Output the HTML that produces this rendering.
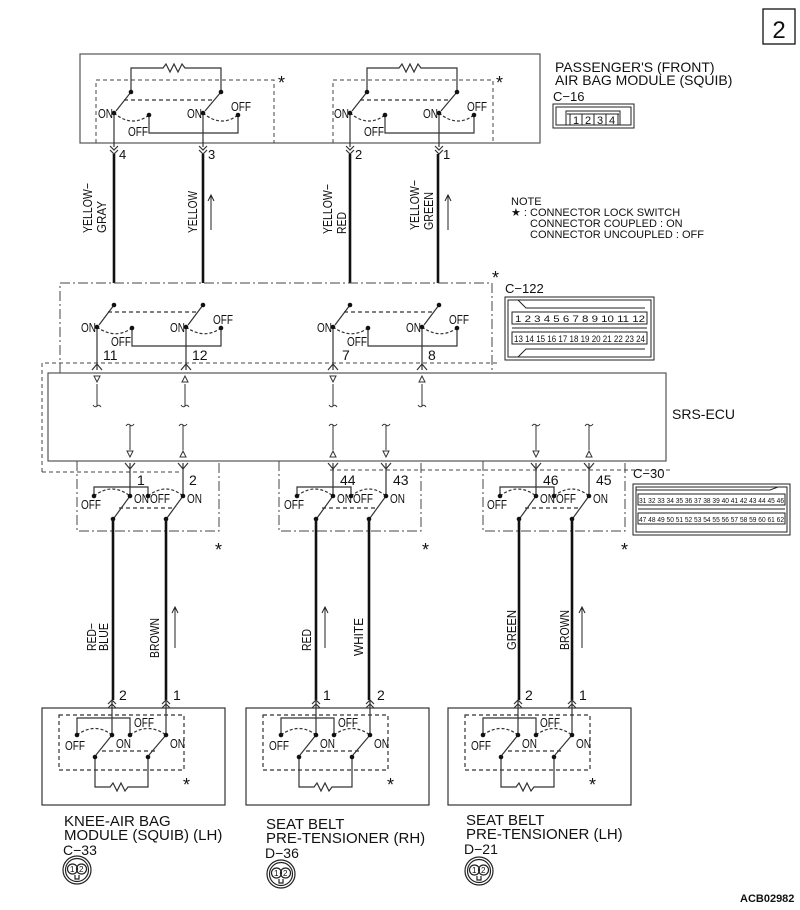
<!DOCTYPE html>
<html><head><meta charset="utf-8"><style>
html,body{margin:0;padding:0;background:#fff}
svg{display:block}
text{font-family:"Liberation Sans",sans-serif;fill:#111}
.c{font-size:13px}
.s{font-size:11px}
.l{font-size:14px}
.st{font-size:18px}
</style></head><body>
<svg width="800" height="910" viewBox="0 0 800 910" xmlns="http://www.w3.org/2000/svg">
<defs>
<g id="topSw" fill="none" stroke="#333" stroke-width="1.2">
 <path d="M131,92 V68 H163 l3,-4 l4,8 l4,-8 l4,8 l4,-8 l3,4 H221 V92"/>
 <path d="M131,92 L116,111 M221,92 L205,111"/>
 <path d="M114,113 V147 M203,113 V147"/>
 <path d="M149,115 V133 H238 V115"/>
 <path d="M124,100 H213" stroke-dasharray="4,3"/>
 <path d="M114,113 Q132,128 149,115 M203,113 Q221,128 238,115" stroke-dasharray="3,2"/>
 <g stroke="none" fill="#111"><circle cx="131" cy="92" r="2.3"/><circle cx="221" cy="92" r="2.3"/><circle cx="114" cy="113" r="2.3"/><circle cx="203" cy="113" r="2.3"/><circle cx="149" cy="115" r="2.3"/><circle cx="238" cy="115" r="2.3"/></g>
 <path d="M110,146 L114,150 L118,146 M110,150 L114,154 L118,150 M199,146 L203,150 L207,146 M199,150 L203,154 L207,150"/>
</g>
<g id="midSw" fill="none" stroke="#333" stroke-width="1.2">
 <path d="M114,305 L99,325 M203,305 L188,325"/>
 <path d="M97,327 V370 M186,327 V370"/>
 <path d="M132,328 V346 H221 V328"/>
 <path d="M108,312 H197" stroke-dasharray="4,3"/>
 <path d="M97,327 Q115,340 132,328 M186,327 Q204,340 221,328" stroke-dasharray="3,2"/>
 <g stroke="none" fill="#111"><circle cx="114" cy="305" r="2.3"/><circle cx="203" cy="305" r="2.3"/><circle cx="97" cy="327" r="2.3"/><circle cx="186" cy="327" r="2.3"/><circle cx="132" cy="328" r="2.3"/><circle cx="221" cy="328" r="2.3"/></g>
 <path d="M92,370 L97,364 L102,370 M181,370 L186,364 L191,370"/>
</g>
<g id="c30Sw" fill="none" stroke="#333" stroke-width="1.2">
 <path d="M125,463 L130,469 L135,463 M178,463 L183,469 L188,463"/>
 <path d="M130,463 V496 M183,463 V496"/>
 <path d="M130,496 L114,518 M183,496 L167,518"/>
 <path d="M94,496 V487 H148 V496"/>
 <path d="M119,508 H172" stroke-dasharray="4,3"/>
 <path d="M94,496 Q112,482 130,496 M148,496 Q166,482 183,496" stroke-dasharray="3,2"/>
 <g stroke="none" fill="#111"><circle cx="130" cy="496" r="2.3"/><circle cx="183" cy="496" r="2.3"/><circle cx="113" cy="519" r="2.3"/><circle cx="166" cy="519" r="2.3"/><circle cx="94" cy="496" r="2.3"/><circle cx="148" cy="496" r="2.3"/></g>
 <path d="M113,519 V700 M166,519 V700" stroke="#111" stroke-width="2.6"/>
</g>
<g id="botSw" fill="none" stroke="#333" stroke-width="1.2">
 <rect x="42" y="708" width="183" height="97"/>
 <rect x="59" y="715" width="125" height="55" stroke-dasharray="4,3"/>
 <path d="M112,701 V735 M166,701 V735"/>
 <path d="M108,704 L112,700 L116,704 M108,708 L112,704 L116,708 M162,704 L166,700 L170,704 M162,708 L166,704 L170,708"/>
 <path d="M112,735 L96,755 M166,735 L149,755"/>
 <path d="M77,735 V718 H130 V735"/>
 <path d="M102,751 H156" stroke-dasharray="4,3"/>
 <path d="M77,735 Q95,722 112,735 M130,735 Q148,722 166,735" stroke-dasharray="3,2"/>
 <path d="M95,757 V787 H110 l3,-4 l4,8 l4,-8 l4,8 l3,-4 H148 V757"/>
 <g stroke="none" fill="#111"><circle cx="112" cy="735" r="2.3"/><circle cx="166" cy="735" r="2.3"/><circle cx="95" cy="757" r="2.3"/><circle cx="148" cy="757" r="2.3"/><circle cx="77" cy="735" r="2.3"/><circle cx="130" cy="735" r="2.3"/></g>
</g>
<g id="plug" fill="none" stroke="#222" stroke-width="1.2">
 <circle cx="0" cy="0" r="14"/><circle cx="0" cy="0" r="11.5"/>
 <circle cx="-4.5" cy="-1" r="5"/><circle cx="4.5" cy="-1" r="5"/>
 <path d="M-2,5 V9 H2 V5"/>
</g>
</defs>

<rect x="763" y="9" width="32" height="35" fill="none" stroke="#111" stroke-width="1.3"/>
<text x="779" y="38" text-anchor="middle" style="font-size:24px">2</text>

<rect x="80" y="54" width="460" height="89" fill="none" stroke="#555" stroke-width="1.2"/>
<path d="M96,143 V80 H274 V143 M333,143 V80 H493 V143" fill="none" stroke="#444" stroke-width="1" stroke-dasharray="4,3"/>
<use href="#topSw"/><use href="#topSw" transform="translate(236,0)"/>
<text x="278" y="89" class="st">*</text><text x="496" y="89" class="st">*</text>
<g class="c">
<text x="98" y="118" textLength="15" lengthAdjust="spacingAndGlyphs">ON</text><text x="128" y="136" textLength="20" lengthAdjust="spacingAndGlyphs">OFF</text>
<text x="187" y="118" textLength="15" lengthAdjust="spacingAndGlyphs">ON</text><text x="231" y="111" textLength="20" lengthAdjust="spacingAndGlyphs">OFF</text>
<text x="334" y="118" textLength="15" lengthAdjust="spacingAndGlyphs">ON</text><text x="364" y="136" textLength="20" lengthAdjust="spacingAndGlyphs">OFF</text>
<text x="423" y="118" textLength="15" lengthAdjust="spacingAndGlyphs">ON</text><text x="467" y="111" textLength="20" lengthAdjust="spacingAndGlyphs">OFF</text>
<text x="119" y="159">4</text><text x="208" y="159">3</text><text x="355" y="159">2</text><text x="443" y="159">1</text>
</g>
<text x="555" y="72" class="l">PASSENGER'S (FRONT)</text>
<text x="555" y="85" class="l">AIR BAG MODULE (SQUIB)</text>
<text x="553" y="101" class="c">C−16</text>
<g fill="none" stroke="#222" stroke-width="1">
<rect x="553" y="104" width="81" height="24"/><rect x="556" y="107" width="75" height="18"/>
<path d="M566,125 V111 H620 V125 M567,114 H619"/>
<path d="M570,114 V125 M582,114 V125 M594,114 V125 M606,114 V125 M618,114 V125"/>
</g>
<g class="s"><text x="573" y="124">1</text><text x="585" y="124">2</text><text x="597" y="124">3</text><text x="609" y="124">4</text></g>

<path d="M114,154 V283 M203,154 V283 M350,154 V283 M438,154 V283" stroke="#111" stroke-width="2.6"/>
<g class="c">
<text transform="translate(92,233) rotate(-90)" textLength="50" lengthAdjust="spacingAndGlyphs">YELLOW−</text>
<text transform="translate(106,233) rotate(-90)" textLength="32" lengthAdjust="spacingAndGlyphs">GRAY</text>
<text transform="translate(197,233) rotate(-90)" textLength="42" lengthAdjust="spacingAndGlyphs">YELLOW</text>
<text transform="translate(332,234) rotate(-90)" textLength="50" lengthAdjust="spacingAndGlyphs">YELLOW−</text>
<text transform="translate(346,234) rotate(-90)" textLength="22" lengthAdjust="spacingAndGlyphs">RED</text>
<text transform="translate(419,230) rotate(-90)" textLength="50" lengthAdjust="spacingAndGlyphs">YELLOW−</text>
<text transform="translate(433,230) rotate(-90)" textLength="38" lengthAdjust="spacingAndGlyphs">GREEN</text>
</g>
<g stroke="#222" stroke-width="1" fill="none">
<path d="M211,230 V195 M208,201 L211,195 L214,201"/>
<path d="M448,230 V195 M445,201 L448,195 L451,201"/>
</g>

<text x="511" y="205" class="s">NOTE</text>
<text x="511" y="216" class="s">★ : CONNECTOR LOCK SWITCH</text>
<text x="530" y="227" class="s">CONNECTOR COUPLED : ON</text>
<text x="530" y="238" class="s">CONNECTOR UNCOUPLED : OFF</text>

<rect x="60" y="283" width="432" height="90" fill="none" stroke="#444" stroke-width="1" stroke-dasharray="10,3,2,3"/>
<text x="492" y="284" class="st">*</text>
<use href="#midSw"/><use href="#midSw" transform="translate(236,0)"/>
<g class="c">
<text x="81" y="332" textLength="15" lengthAdjust="spacingAndGlyphs">ON</text><text x="111" y="346" textLength="20" lengthAdjust="spacingAndGlyphs">OFF</text>
<text x="170" y="332" textLength="15" lengthAdjust="spacingAndGlyphs">ON</text><text x="213" y="324" textLength="20" lengthAdjust="spacingAndGlyphs">OFF</text>
<text x="317" y="332" textLength="15" lengthAdjust="spacingAndGlyphs">ON</text><text x="347" y="346" textLength="20" lengthAdjust="spacingAndGlyphs">OFF</text>
<text x="406" y="332" textLength="15" lengthAdjust="spacingAndGlyphs">ON</text><text x="449" y="324" textLength="20" lengthAdjust="spacingAndGlyphs">OFF</text>
<text x="103" y="360" style="font-size:14px">11</text><text x="192" y="360" style="font-size:14px">12</text>
<text x="342" y="360" style="font-size:14px">7</text><text x="428" y="360" style="font-size:14px">8</text>
</g>
<text x="505" y="293" class="c">C−122</text>
<g fill="none" stroke="#222" stroke-width="1">
<rect x="505" y="297" width="149" height="63"/><rect x="508" y="300" width="143" height="57"/>
<rect x="512" y="312" width="135" height="12"/><rect x="512" y="332" width="135" height="12"/>
<path d="M512,328 H647 M518,300 l8,8 H645 M518,357 l8,-8 H645"/>
</g>
<g style="font-size:9px" fill="#111">
<text x="515" y="322" textLength="130" lengthAdjust="spacingAndGlyphs">1 2 3 4 5 6 7 8 9 10 11 12</text>
<text x="514" y="342" textLength="131" lengthAdjust="spacingAndGlyphs">13 14 15 16 17 18 19 20 21 22 23 24</text>
</g>

<path d="M42,472 V363 H500" fill="none" stroke="#444" stroke-width="1" stroke-dasharray="4,3"/>
<path d="M42,472 H180 M330,470 H670" fill="none" stroke="#444" stroke-width="1" stroke-dasharray="4,3"/>
<rect x="48" y="373" width="618" height="88" fill="#fff" stroke="#555" stroke-width="1.2"/>
<text x="672" y="419" class="l">SRS-ECU</text>
<g fill="none" stroke="#333" stroke-width="1">
<path d="M94,376 H100 L97,382 Z M330,376 H336 L333,382 Z"/>
<path d="M182,382 H188 L185,376 Z M419,382 H425 L422,376 Z"/>
<path d="M97,384 V406 M185,384 V406 M333,384 V406 M422,384 V406"/>
<path d="M93,405 q2,3 4,1 q2,-2 4,1 M181,405 q2,3 4,1 q2,-2 4,1 M329,405 q2,3 4,1 q2,-2 4,1 M418,405 q2,3 4,1 q2,-2 4,1"/>
<path d="M126,426 q2,-3 4,-1 q2,2 4,-1 M179,426 q2,-3 4,-1 q2,2 4,-1 M329,426 q2,-3 4,-1 q2,2 4,-1 M382,426 q2,-3 4,-1 q2,2 4,-1 M532,426 q2,-3 4,-1 q2,2 4,-1 M585,426 q2,-3 4,-1 q2,2 4,-1"/>
<path d="M130,425 V450 M183,425 V450 M333,425 V450 M386,425 V450 M536,425 V450 M589,425 V450"/>
<path d="M127,451 H133 L130,457 Z M383,451 H389 L386,457 Z M533,451 H539 L536,457 Z"/>
<path d="M180,457 H186 L183,451 Z M330,457 H336 L333,451 Z M586,457 H592 L589,451 Z"/>
</g>

<g fill="none" stroke="#444" stroke-width="1" stroke-dasharray="10,3,2,3">
<path d="M77,461 V531 H219 V461 M279,461 V531 H421 V461 M483,461 V531 H625 V461"/>
</g>
<use href="#c30Sw"/><use href="#c30Sw" transform="translate(203,0)"/><use href="#c30Sw" transform="translate(406,0)"/>
<g class="c">
<text x="81" y="509" textLength="20" lengthAdjust="spacingAndGlyphs">OFF</text><text x="134" y="503" textLength="15" lengthAdjust="spacingAndGlyphs">ON</text><text x="150" y="503" textLength="20" lengthAdjust="spacingAndGlyphs">OFF</text><text x="187" y="503" textLength="15" lengthAdjust="spacingAndGlyphs">ON</text>
<text x="284" y="509" textLength="20" lengthAdjust="spacingAndGlyphs">OFF</text><text x="337" y="503" textLength="15" lengthAdjust="spacingAndGlyphs">ON</text><text x="353" y="503" textLength="20" lengthAdjust="spacingAndGlyphs">OFF</text><text x="390" y="503" textLength="15" lengthAdjust="spacingAndGlyphs">ON</text>
<text x="487" y="509" textLength="20" lengthAdjust="spacingAndGlyphs">OFF</text><text x="540" y="503" textLength="15" lengthAdjust="spacingAndGlyphs">ON</text><text x="556" y="503" textLength="20" lengthAdjust="spacingAndGlyphs">OFF</text><text x="593" y="503" textLength="15" lengthAdjust="spacingAndGlyphs">ON</text>
</g>
<g style="font-size:14px">
<text x="137" y="485">1</text><text x="189" y="485">2</text>
<text x="340" y="485">44</text><text x="393" y="485">43</text>
<text x="543" y="485">46</text><text x="596" y="485">45</text>
</g>
<text x="215" y="556" class="st">*</text><text x="422" y="556" class="st">*</text><text x="621" y="556" class="st">*</text>
<text x="633" y="478" class="c">C−30</text>
<g fill="none" stroke="#222" stroke-width="1">
<rect x="633" y="484" width="157" height="51"/><rect x="636" y="487" width="151" height="45"/>
<rect x="638" y="494" width="147" height="11"/><rect x="638" y="513" width="147" height="11"/>
<path d="M638,509 H785 M636,490 H770 l8,-3"/>
</g>
<g style="font-size:7px" fill="#111">
<text x="639" y="503" textLength="145" lengthAdjust="spacingAndGlyphs">31 32 33 34 35 36 37 38 39 40 41 42 43 44 45 46</text>
<text x="639" y="522" textLength="145" lengthAdjust="spacingAndGlyphs">47 48 49 50 51 52 53 54 55 56 57 58 59 60 61 62</text>
</g>

<g class="c">
<text transform="translate(96,651) rotate(-90)" textLength="28" lengthAdjust="spacingAndGlyphs">RED−</text>
<text transform="translate(108,651) rotate(-90)" textLength="28" lengthAdjust="spacingAndGlyphs">BLUE</text>
<text transform="translate(159,658) rotate(-90)" textLength="40" lengthAdjust="spacingAndGlyphs">BROWN</text>
<text transform="translate(311,651) rotate(-90)" textLength="22" lengthAdjust="spacingAndGlyphs">RED</text>
<text transform="translate(363,656) rotate(-90)" textLength="38" lengthAdjust="spacingAndGlyphs">WHITE</text>
<text transform="translate(516,650) rotate(-90)" textLength="40" lengthAdjust="spacingAndGlyphs">GREEN</text>
<text transform="translate(569,650) rotate(-90)" textLength="40" lengthAdjust="spacingAndGlyphs">BROWN</text>
</g>
<g stroke="#222" stroke-width="1" fill="none">
<path d="M175,648 V607 M172,613 L175,607 L178,613"/>
<path d="M325,648 V607 M322,613 L325,607 L328,613"/>
<path d="M582,648 V607 M579,613 L582,607 L585,613"/>
</g>

<use href="#botSw"/><use href="#botSw" transform="translate(204,0)"/><use href="#botSw" transform="translate(406,0)"/>
<g class="c">
<text x="65" y="750" textLength="20" lengthAdjust="spacingAndGlyphs">OFF</text><text x="116" y="748" textLength="15" lengthAdjust="spacingAndGlyphs">ON</text><text x="134" y="727" textLength="20" lengthAdjust="spacingAndGlyphs">OFF</text><text x="170" y="748" textLength="15" lengthAdjust="spacingAndGlyphs">ON</text>
<text x="269" y="750" textLength="20" lengthAdjust="spacingAndGlyphs">OFF</text><text x="320" y="748" textLength="15" lengthAdjust="spacingAndGlyphs">ON</text><text x="338" y="727" textLength="20" lengthAdjust="spacingAndGlyphs">OFF</text><text x="374" y="748" textLength="15" lengthAdjust="spacingAndGlyphs">ON</text>
<text x="471" y="750" textLength="20" lengthAdjust="spacingAndGlyphs">OFF</text><text x="522" y="748" textLength="15" lengthAdjust="spacingAndGlyphs">ON</text><text x="540" y="727" textLength="20" lengthAdjust="spacingAndGlyphs">OFF</text><text x="576" y="748" textLength="15" lengthAdjust="spacingAndGlyphs">ON</text>
</g>
<g style="font-size:14px">
<text x="119" y="700">2</text><text x="173" y="700">1</text>
<text x="323" y="700">1</text><text x="377" y="700">2</text>
<text x="525" y="700">2</text><text x="579" y="700">1</text>
</g>
<text x="183" y="791" class="st">*</text><text x="387" y="791" class="st">*</text><text x="589" y="791" class="st">*</text>

<g style="font-size:15px">
<text x="64" y="826">KNEE-AIR BAG</text>
<text x="64" y="840">MODULE (SQUIB) (LH)</text>
<text x="266" y="829">SEAT BELT</text>
<text x="266" y="843">PRE-TENSIONER (RH)</text>
<text x="466" y="825">SEAT BELT</text>
<text x="466" y="839">PRE-TENSIONER (LH)</text>
</g>
<g style="font-size:14px">
<text x="63" y="855">C−33</text>
<text x="265" y="858">D−36</text>
<text x="464" y="854">D−21</text>
</g>
<use href="#plug" transform="translate(77,870)"/>
<use href="#plug" transform="translate(281,874)"/>
<use href="#plug" transform="translate(479,871)"/>
<g style="font-size:8px"><text x="70" y="872">1</text><text x="79" y="872">2</text><text x="274" y="876">1</text><text x="283" y="876">2</text><text x="472" y="873">1</text><text x="481" y="873">2</text></g>

<text x="740" y="902" style="font-size:11px;font-weight:bold">ACB02982</text>
</svg>
</body></html>
